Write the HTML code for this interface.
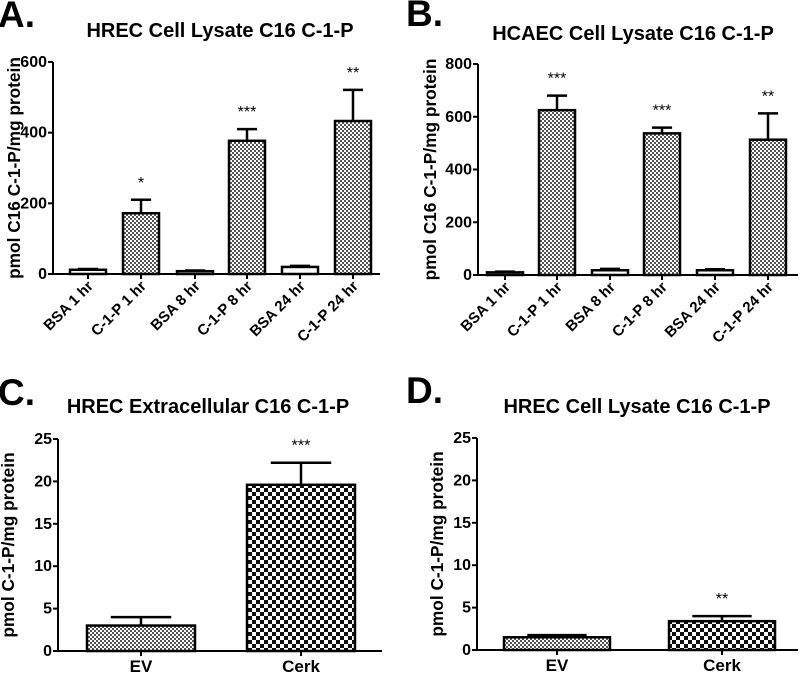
<!DOCTYPE html>
<html><head><meta charset="utf-8"><style>
body{margin:0;background:#fff;}
svg{display:block;font-family:"Liberation Sans",Arial,sans-serif;font-weight:bold;}
</style></head><body>
<svg id="fig" width="800" height="673" viewBox="0 0 800 673">
<defs>
<pattern id="fine" width="4" height="4" patternUnits="userSpaceOnUse"><rect width="4" height="4" fill="#fff"/><rect width="2" height="2" fill="#555"/><rect x="2" y="2" width="2" height="2" fill="#555"/></pattern>
<pattern id="coarse" width="8" height="8" patternUnits="userSpaceOnUse"><rect width="8" height="8" fill="#fff"/><rect width="4" height="4" fill="#111"/><rect x="4" y="4" width="4" height="4" fill="#111"/></pattern>
</defs>
</svg>
<script>
const catsAB=["BSA 1 hr","C-1-P 1 hr","BSA 8 hr","C-1-P 8 hr","BSA 24 hr","C-1-P 24 hr"];
const valsA=[12,172,8,377,20,433];
const errA=[2,38,2,33,3,88];
const sigA=["","*","","***","","**"];
const ticksA=[0,200,400,600];
const valsB=[10,625,18,537,18,513];
const errB=[3,55,5,22,4,100];
const sigB=["","***","","***","","**"];
const ticksB=[0,200,400,600,800];
const catsCD=["EV","Cerk"];
const valsC=[3.0,19.6];
const errC=[1.0,2.6];
const sigC=["","***"];
const valsD=[1.5,3.4];
const errD=[0.25,0.6];
const sigD=["","**"];
const ticksCD=[0,5,10,15,20,25];

const svg=document.getElementById('fig');
const NS="http://www.w3.org/2000/svg";
function mk(tag,attrs,txt){const e=document.createElementNS(NS,tag);for(const k in attrs)e.setAttribute(k,attrs[k]);if(txt!==undefined)e.textContent=txt;svg.appendChild(e);return e;}

function panel(p){
  const {letter,title,titleX,ax,x1,y0,yTop,max,ticks,cats,vals,errs,sigs,fills,barX,barW,ylab,rot,key}=p;
  const ys=v=>y0-(v/max)*(y0-yTop);
  let e=mk('text',{x:p.lx,y:p.ly,'font-size':37},letter);
  
  
  e=mk('text',{x:titleX,y:p.ty,'font-size':20,'text-anchor':'middle'},title);
  
  
  e=mk('text',{x:0,y:0,'font-size':17.3,'text-anchor':'middle',transform:`translate(${p.ylx},${(y0+yTop)/2}) rotate(-90)`},ylab);
  
  
  e=mk('line',{x1:ax,y1:yTop,x2:ax,y2:y0,stroke:'#000','stroke-width':2});
  
  
  e=mk('line',{x1:ax,y1:y0,x2:x1,y2:y0,stroke:'#000','stroke-width':2});
  
  
  ticks.forEach(t=>{
    const y=ys(t);
    let l=mk('line',{x1:ax-5,y1:y,x2:ax,y2:y,stroke:'#000','stroke-width':2});
    
    
    let tx=mk('text',{x:ax-6,y:y+5,'font-size':16,'text-anchor':'end'},String(t));
    
    
  });
  cats.forEach((c,i)=>{
    const bx=barX[i],cx=bx+barW/2,top=ys(vals[i]);
    const eTop=ys(vals[i]+errs[i]);
    let el=mk('line',{x1:cx,y1:top,x2:cx,y2:eTop,stroke:'#000','stroke-width':2.5});
    
    
    el=mk('line',{x1:cx-barW*0.28,y1:eTop,x2:cx+barW*0.28,y2:eTop,stroke:'#000','stroke-width':2.5});
    
    
    let r=mk('rect',{x:bx,y:top,width:barW,height:Math.max(y0-top,1),fill:fills[i],stroke:'#000','stroke-width':2.5});
    
    
    let tk=mk('line',{x1:cx,y1:y0,x2:cx,y2:y0+5,stroke:'#000','stroke-width':2});
    
    
    let lab;
    if(rot){lab=mk('text',{x:0,y:0,'font-size':15,'text-anchor':'end',transform:`translate(${cx+6},${y0+13}) rotate(-45)`},c);}
    else{lab=mk('text',{x:cx,y:y0+21,'font-size':17,'text-anchor':'middle'},c);}
    
    
    if(sigs[i]){
      let s=mk('text',{x:cx,y:eTop-12,'font-size':16,'font-weight':'normal','text-anchor':'middle'},sigs[i]);
      
      
    }
  });
}
const fAB=["#fff","url(#fine)","#fff","url(#fine)","#fff","url(#fine)"];
panel({key:'a',letter:'A.',lx:-2,ly:27,title:'HREC Cell Lysate C16 C-1-P',titleX:220,ty:37,ylx:20,ax:53,x1:380,y0:274,yTop:62,max:600,ticks:ticksA,cats:catsAB,vals:valsA,errs:errA,sigs:sigA,fills:fAB,barX:[70,123,177,229,282,335],barW:36,ylab:'pmol C16 C-1-P/mg protein',rot:true});
panel({key:'b',letter:'B.',lx:406,ly:26,title:'HCAEC Cell Lysate C16 C-1-P',titleX:633,ty:40,ylx:436,ax:478,x1:798,y0:275,yTop:64,max:800,ticks:ticksB,cats:catsAB,vals:valsB,errs:errB,sigs:sigB,fills:fAB,barX:[487,539,592,644,697,750],barW:36,ylab:'pmol C16 C-1-P/mg protein',rot:true});
panel({key:'c',letter:'C.',lx:-2,ly:405,title:'HREC Extracellular C16 C-1-P',titleX:208,ty:413,ylx:14,ax:58,x1:382,y0:651,yTop:439,max:25,ticks:ticksCD,cats:catsCD,vals:valsC,errs:errC,sigs:sigC,fills:["url(#fine)","url(#coarse)"],barX:[87,247],barW:108,ylab:'pmol C-1-P/mg protein',rot:false});
panel({key:'d',letter:'D.',lx:406,ly:403,title:'HREC Cell Lysate C16 C-1-P',titleX:637,ty:413,ylx:443,ax:477,x1:798,y0:650,yTop:438,max:25,ticks:ticksCD,cats:catsCD,vals:valsD,errs:errD,sigs:sigD,fills:["url(#fine)","url(#coarse)"],barX:[504,669],barW:106,ylab:'pmol C-1-P/mg protein',rot:false});
</script>
</body></html>
